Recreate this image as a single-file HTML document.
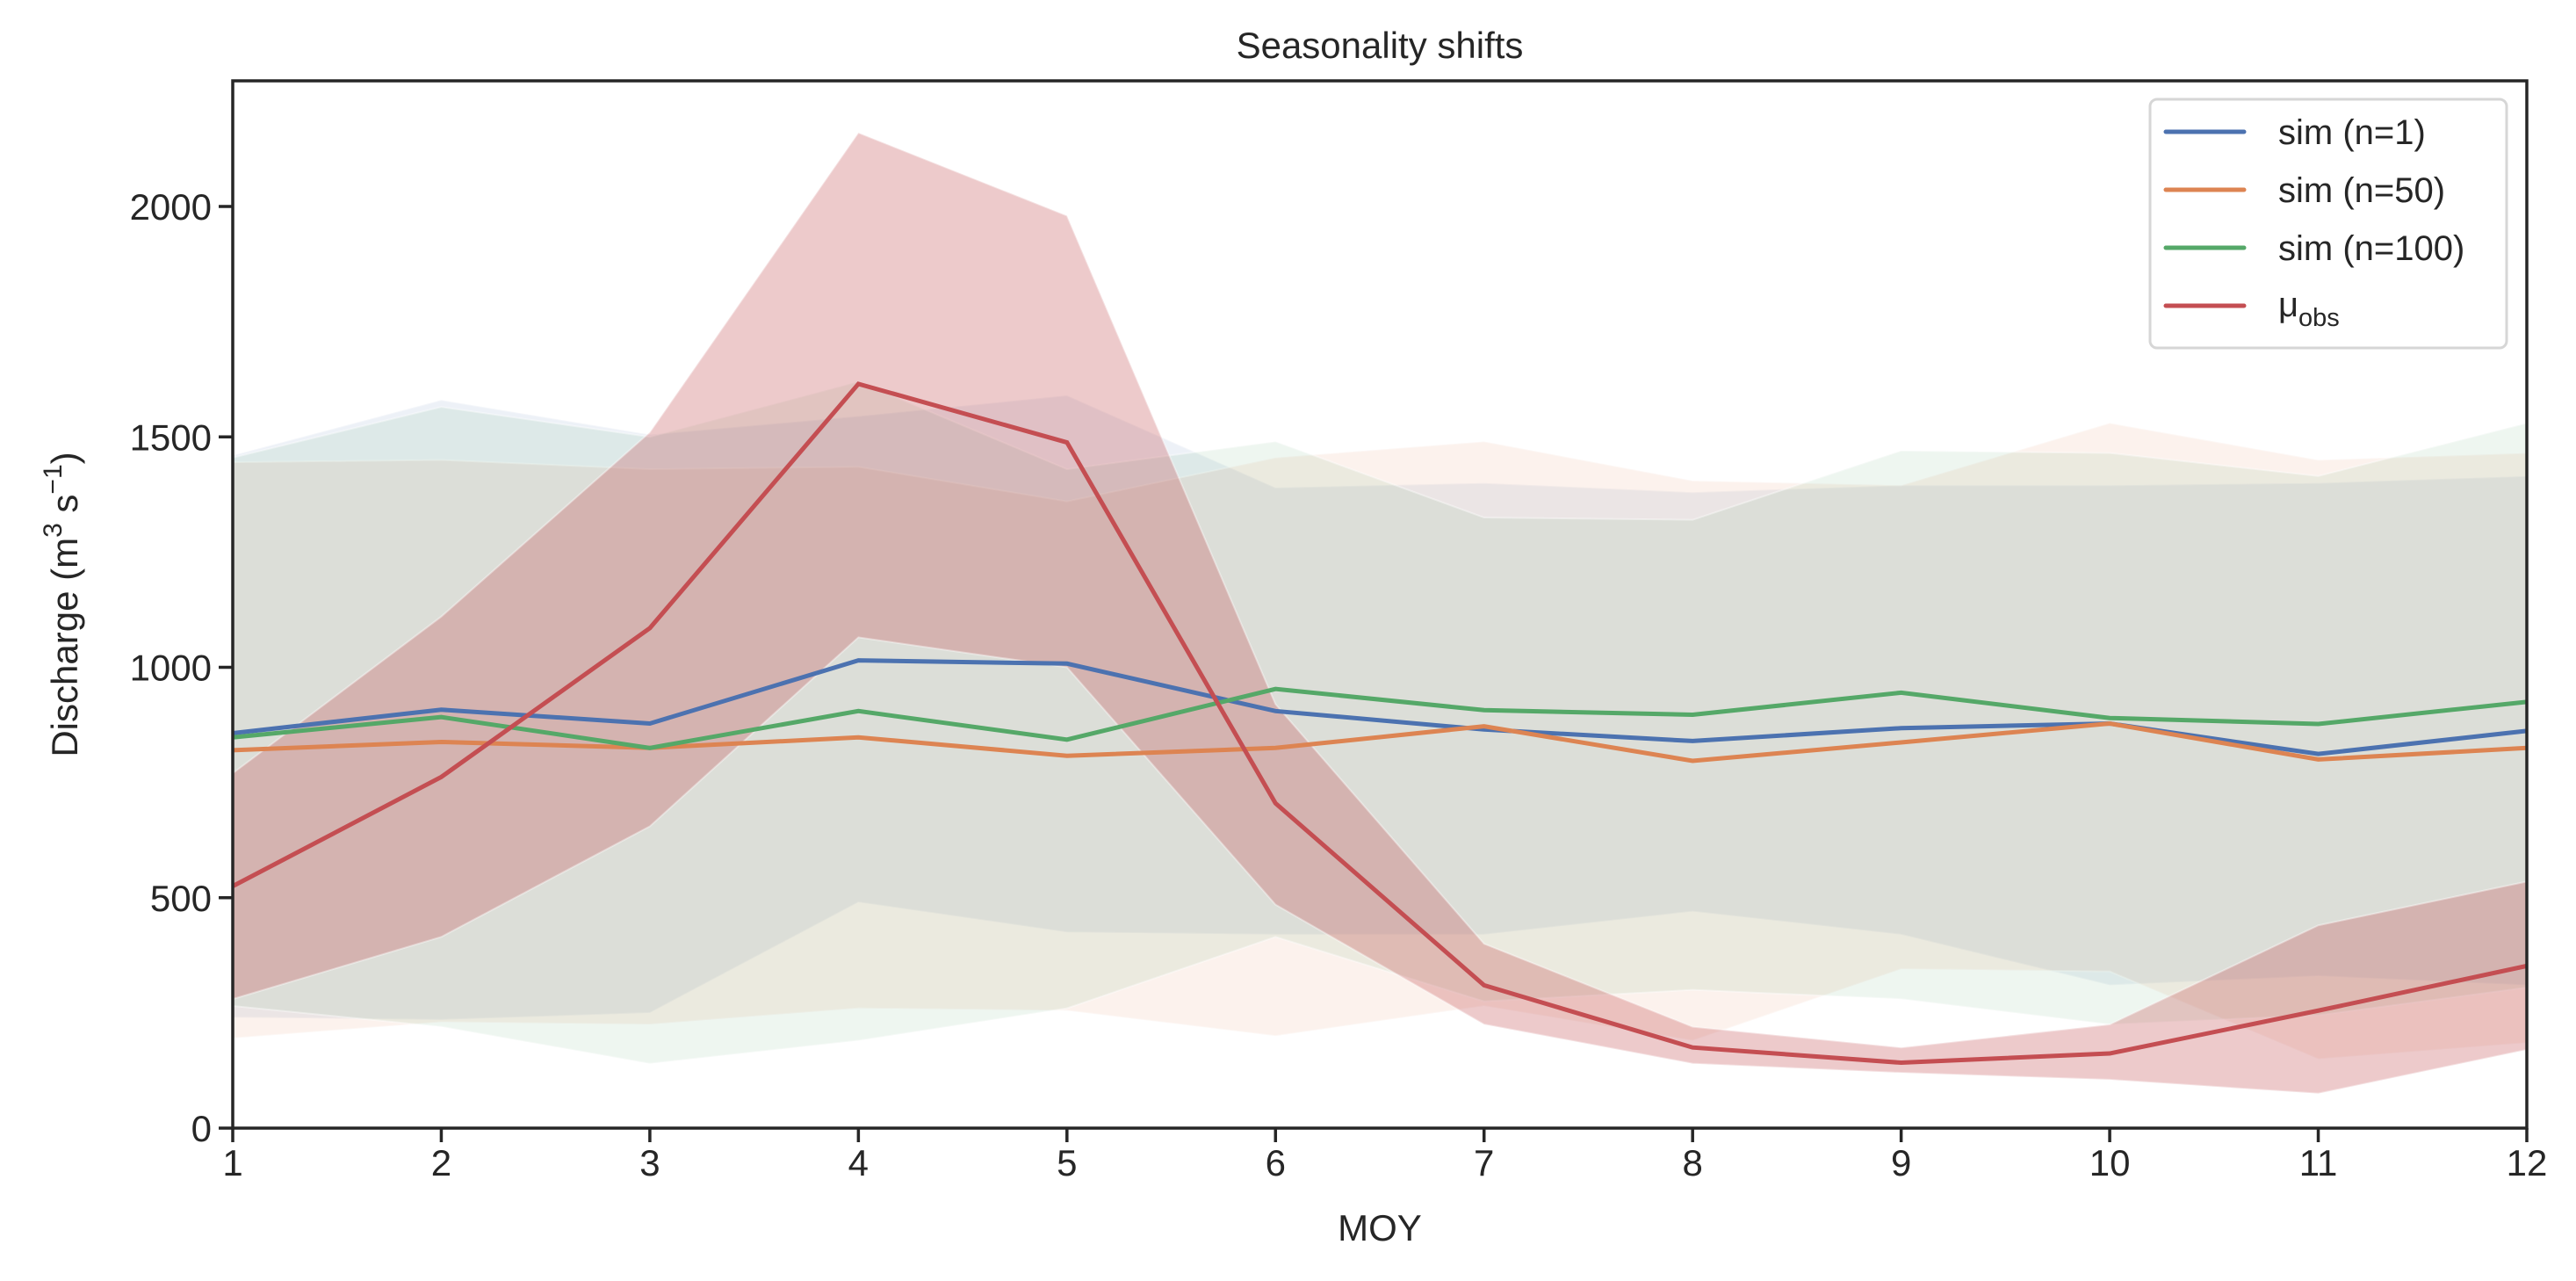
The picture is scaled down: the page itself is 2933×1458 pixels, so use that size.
<!DOCTYPE html>
<html><head><meta charset="utf-8"><style>
html,body{margin:0;padding:0;background:#fff}
svg{display:block}
text{font-family:"Liberation Sans",Arial,sans-serif;fill:#262626}
</style></head><body>
<svg id="chart" width="2933" height="1458" viewBox="0 0 2933 1458" xmlns="http://www.w3.org/2000/svg">
<g id="bands"></g>
<g id="lines"></g>
<g id="axes"></g>
</svg>
<script>
const months = [1,2,3,4,5,6,7,8,9,10,11,12];
const xTicks = [1,2,3,4,5,6,7,8,9,10,11,12];
const yTicks = [0,500,1000,1500,2000];
const sim1Mean = [857,908,878,1015,1008,905,865,840,868,878,812,862];
const sim1Upper = [1460,1580,1505,1545,1590,1390,1400,1380,1395,1395,1400,1415];
const sim1Lower = [240,235,250,490,425,420,420,470,420,310,330,310];
const sim50Mean = [820,838,825,848,808,825,872,797,837,878,800,825];
const sim50Upper = [1445,1450,1430,1435,1360,1455,1490,1405,1395,1530,1450,1465];
const sim50Lower = [195,230,225,260,255,200,265,190,345,340,150,185];
const sim100Mean = [848,892,825,905,843,953,907,897,945,890,877,925];
const sim100Upper = [1455,1565,1500,1620,1430,1490,1325,1320,1470,1465,1415,1530];
const sim100Lower = [265,220,140,190,260,415,275,300,280,225,245,305];
const obsMean = [525,762,1085,1615,1488,705,310,175,142,162,255,352];
const obsUpper = [770,1110,1510,2160,1980,920,400,220,175,225,440,535];
const obsLower = [280,415,655,1065,1000,485,225,140,120,105,75,170];

const L=265,R=2877,T=92,B=1284,Y0=1284,Y2000=235;
const xs = m => L + (m-1)*(R-L)/11;
const ys = v => Y0 - v*(Y0-Y2000)/2000;
const NS="http://www.w3.org/2000/svg";
function mk(tag, parent, attrs){const e=document.createElementNS(NS,tag);for(const k in attrs)e.setAttribute(k,attrs[k]);parent.appendChild(e);return e;}
const bandsG=document.getElementById('bands'), linesG=document.getElementById('lines'), axG=document.getElementById('axes');

const series=[
 {name:'sim-n1',c:'#4c72b0',m:sim1Mean,u:sim1Upper,l:sim1Lower,a:0.1},
 {name:'sim-n50',c:'#dd8452',m:sim50Mean,u:sim50Upper,l:sim50Lower,a:0.1},
 {name:'sim-n100',c:'#55a868',m:sim100Mean,u:sim100Upper,l:sim100Lower,a:0.1},
 {name:'obs-mean',c:'#c44e52',m:obsMean,u:obsUpper,l:obsLower,a:0.3}
];
series.forEach(s=>{
  let pts=months.map((m,i)=>xs(m)+','+ys(s.u[i]));
  pts=pts.concat(months.slice().reverse().map((m,j)=>{const i=months.length-1-j;return xs(m)+','+ys(s.l[i]);}));
  const p=mk('polygon',bandsG,{points:pts.join(' '),fill:s.c,'fill-opacity':s.a,stroke:'#fff','stroke-opacity':0.4,'stroke-width':2});
  
  
});
series.forEach(s=>{
  const p=mk('polyline',linesG,{points:months.map((m,i)=>xs(m)+','+ys(s.m[i])).join(' '),fill:'none',stroke:s.c,'stroke-width':5,'stroke-linejoin':'miter'});
  
  
});
const fr=mk('rect',axG,{x:L,y:T,width:R-L,height:B-T,fill:'none',stroke:'#262626','stroke-width':3.5});


xTicks.forEach(t=>{
  const ln=mk('line',axG,{x1:xs(t),x2:xs(t),y1:B,y2:B+16,stroke:'#262626','stroke-width':3.5});
  
  
  const tx=mk('text',axG,{x:xs(t),y:B+54,'text-anchor':'middle','font-size':42});
  tx.textContent=t;
  
  
});
yTicks.forEach(t=>{
  const ln=mk('line',axG,{x1:L-16,x2:L,y1:ys(t),y2:ys(t),stroke:'#262626','stroke-width':3.5});
  
  
  const tx=mk('text',axG,{x:L-24,y:ys(t)+15,'text-anchor':'end','font-size':42});
  tx.textContent=t;
  
  
});
</script>
<svg style="position:absolute;left:0;top:0" width="2933" height="1458">
<text x="1571" y="66" text-anchor="middle" font-size="42">Seasonality shifts</text>
<text x="1571" y="1412" text-anchor="middle" font-size="42">MOY</text>
<text transform="translate(88,688) rotate(-90)" text-anchor="middle" font-size="42">Discharge (m<tspan font-size="30" dy="-18">3</tspan><tspan dy="18"> s</tspan><tspan font-size="30" dy="-18">−1</tspan><tspan dy="18">)</tspan></text>
<g>
<rect x="2448" y="113" width="406" height="283" rx="8" fill="#fff" fill-opacity="0.8" stroke="#d6d6d6" stroke-width="3"/>
<line x1="2466" x2="2555" y1="150" y2="150" stroke="#4c72b0" stroke-width="5" stroke-linecap="round"/>
<text x="2594" y="164" font-size="40">sim (n=1)</text>
<line x1="2466" x2="2555" y1="216" y2="216" stroke="#dd8452" stroke-width="5" stroke-linecap="round"/>
<text x="2594" y="230" font-size="40">sim (n=50)</text>
<line x1="2466" x2="2555" y1="282" y2="282" stroke="#55a868" stroke-width="5" stroke-linecap="round"/>
<text x="2594" y="296" font-size="40">sim (n=100)</text>
<line x1="2466" x2="2555" y1="348" y2="348" stroke="#c44e52" stroke-width="5" stroke-linecap="round"/>
<text x="2594" y="360" font-size="40">μ<tspan font-size="29" dy="11">obs</tspan></text>
</g>
</svg>
</body></html>
